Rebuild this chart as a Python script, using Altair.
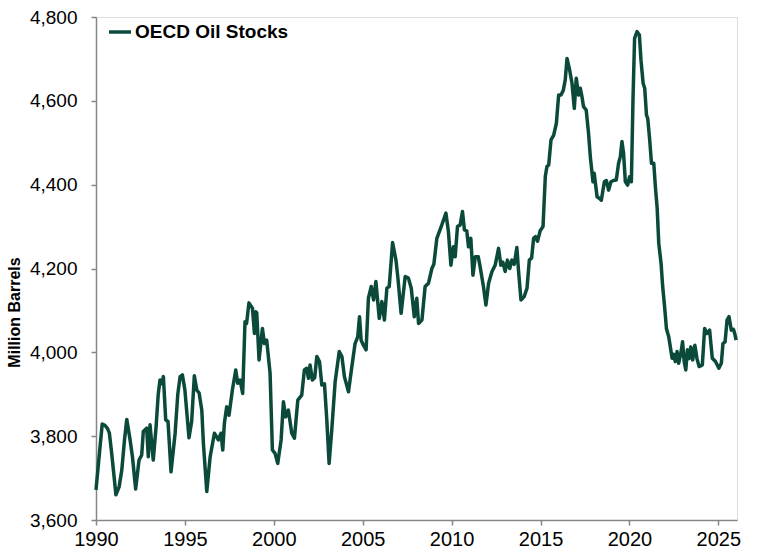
import altair as alt
import pandas as pd

years = [
    1990.00, 1990.15, 1990.35, 1990.50, 1990.65, 1990.75, 1990.88, 1991.05, 1991.12, 1991.30,
    1991.45, 1991.60, 1991.73, 1991.90, 1992.05, 1992.23, 1992.42, 1992.57, 1992.66, 1992.85,
    1992.94, 1993.04, 1993.22, 1993.38, 1993.50, 1993.60, 1993.70, 1993.79, 1993.92, 1994.05,
    1994.22, 1994.45, 1994.60, 1994.73, 1994.86, 1995.00, 1995.23, 1995.38, 1995.53, 1995.67,
    1995.80, 1995.95, 1996.04, 1996.23, 1996.42, 1996.66, 1996.88, 1997.03, 1997.13, 1997.22,
    1997.35, 1997.48, 1997.67, 1997.86, 1997.97, 1998.10, 1998.25, 1998.38, 1998.47, 1998.60,
    1998.80, 1998.91, 1998.98, 1999.04, 1999.17, 1999.36, 1999.47, 1999.60, 1999.79, 1999.92,
    2000.07, 2000.22, 2000.41, 2000.54, 2000.67, 2000.82, 2001.01, 2001.16, 2001.35, 2001.57,
    2001.72, 2001.85, 2001.95, 2002.04, 2002.17, 2002.30, 2002.42, 2002.57, 2002.70, 2002.85,
    2002.98, 2003.11, 2003.26, 2003.45, 2003.68, 2003.83, 2003.97, 2004.20, 2004.39, 2004.57,
    2004.72, 2004.82, 2004.91, 2005.04, 2005.19, 2005.32, 2005.48, 2005.61, 2005.74, 2005.93,
    2006.08, 2006.22, 2006.36, 2006.49, 2006.68, 2006.87, 2006.98, 2007.16, 2007.39, 2007.57,
    2007.73, 2007.90, 2008.04, 2008.14, 2008.33, 2008.51, 2008.70, 2008.89, 2009.00, 2009.17,
    2009.45, 2009.68, 2009.82, 2009.96, 2010.10, 2010.20, 2010.33, 2010.48, 2010.61, 2010.72,
    2010.85, 2010.95, 2011.08, 2011.20, 2011.33, 2011.50, 2011.60, 2011.79, 2011.93, 2012.08,
    2012.27, 2012.45, 2012.64, 2012.77, 2012.88, 2013.01, 2013.14, 2013.27, 2013.39, 2013.52,
    2013.67, 2013.76, 2013.90, 2014.08, 2014.24, 2014.37, 2014.50, 2014.61, 2014.72, 2014.83,
    2014.98, 2015.14, 2015.27, 2015.36, 2015.46, 2015.59, 2015.74, 2015.89, 2016.02, 2016.15,
    2016.28, 2016.39, 2016.49, 2016.64, 2016.77, 2016.90, 2017.01, 2017.14, 2017.24, 2017.33,
    2017.42, 2017.57, 2017.70, 2017.80, 2017.95, 2018.02, 2018.18, 2018.32, 2018.42, 2018.59,
    2018.70, 2018.83, 2018.96, 2019.10, 2019.26, 2019.39, 2019.49, 2019.58, 2019.67, 2019.77,
    2019.90, 2020.01, 2020.11, 2020.20, 2020.29, 2020.43, 2020.56, 2020.65, 2020.77, 2020.86,
    2020.96, 2021.03, 2021.14, 2021.24, 2021.37, 2021.46, 2021.56, 2021.65, 2021.78, 2021.87,
    2021.97, 2022.08, 2022.21, 2022.30, 2022.40, 2022.49, 2022.58, 2022.68, 2022.77, 2022.88,
    2022.99, 2023.08, 2023.17, 2023.26, 2023.36, 2023.45, 2023.56, 2023.68, 2023.80, 2023.92,
    2024.10, 2024.23, 2024.36, 2024.51, 2024.66, 2024.84, 2025.03, 2025.17, 2025.26, 2025.38,
    2025.49, 2025.60, 2025.73, 2025.85, 2025.92, 2026.00,
]

stocks = [
    3672, 3740, 3829, 3826, 3818, 3808, 3760, 3690, 3660, 3679,
    3719, 3790, 3840, 3796, 3751, 3674, 3743, 3755, 3811, 3819,
    3751, 3827, 3743, 3823, 3900, 3934, 3925, 3942, 3839, 3835,
    3715, 3807, 3900, 3942, 3946, 3910, 3796, 3835, 3944, 3910,
    3903, 3862, 3783, 3668, 3751, 3807, 3791, 3807, 3767, 3831,
    3870, 3850, 3910, 3958, 3926, 3934, 3902, 4073, 4069, 4118,
    4105, 4045, 4097, 4094, 3982, 4057, 4021, 4029, 3950, 3767,
    3759, 3735, 3791, 3882, 3846, 3862, 3807, 3795, 3886, 3898,
    3958, 3962, 3938, 3970, 3934, 3940, 3990, 3978, 3922, 3925,
    3839, 3735, 3815, 3930, 4002, 3990, 3942, 3906, 3966, 4021,
    4037, 4085, 4029, 4017, 4006, 4129, 4157, 4125, 4169, 4081,
    4121, 4077, 4153, 4157, 4262, 4220, 4177, 4093, 4181, 4177,
    4153, 4085, 4129, 4069, 4077, 4157, 4165, 4200, 4210, 4272,
    4304, 4332, 4288, 4208, 4252, 4228, 4300, 4304, 4336, 4292,
    4290, 4252, 4272, 4184, 4228, 4228, 4205, 4157, 4113, 4165,
    4193, 4208, 4248, 4208, 4215, 4193, 4220, 4200, 4220, 4210,
    4250, 4196, 4125, 4133, 4153, 4220, 4225, 4272, 4276, 4265,
    4290, 4300, 4420, 4443, 4447, 4507, 4518, 4546, 4614, 4614,
    4625, 4650, 4701, 4673, 4642, 4582, 4654, 4614, 4630, 4610,
    4586, 4578, 4523, 4467, 4407, 4427, 4371, 4367, 4363, 4407,
    4410, 4387, 4407, 4410, 4411, 4451, 4467, 4503, 4475, 4407,
    4399, 4419, 4407, 4602, 4749, 4765, 4757, 4697, 4642, 4630,
    4566, 4558, 4507, 4451, 4451, 4395, 4344, 4260, 4212, 4157,
    4113, 4057, 4037, 4013, 3986, 3995, 3978, 4002, 3974, 3995,
    4025, 3978, 3958, 4006, 3985, 4013, 3982, 4017, 3985, 3966,
    3970, 4057, 4045, 4053, 3986, 3978, 3962, 3974, 4021, 4025,
    4077, 4085, 4053, 4055, 4045, 4029,
]

series_name = "OECD Oil Stocks"
x_ticks = [1990, 1995, 2000, 2005, 2010, 2015, 2020, 2025]
y_ticks = [3600, 3800, 4000, 4200, 4400, 4600, 4800]

df = pd.DataFrame({"year": years, "stocks": stocks, "series": series_name})

AX = "#868686"
LINE = "#0B4A3B"

chart = (
    alt.Chart(df)
    .mark_line(strokeWidth=3.5, strokeJoin="round")
    .encode(
        x=alt.X(
            "year:Q",
            scale=alt.Scale(domain=[1990, 2026.05], nice=False, zero=False),
            axis=alt.Axis(
                values=x_ticks, format="d", title=None, grid=False,
                domainColor=AX, domainWidth=1.5, tickColor=AX, tickWidth=1.5, tickSize=5,
                labelFont="Liberation Sans Narrow, Liberation Sans, Arial", labelFontSize=20,
                labelColor="#000000", labelPadding=4, labelFlush=False,
            ),
        ),
        y=alt.Y(
            "stocks:Q",
            scale=alt.Scale(domain=[3600, 4800], nice=False, zero=False),
            axis=alt.Axis(
                values=y_ticks, format=",.0f", title="Million Barrels", grid=False,
                domainColor=AX, domainWidth=1.5, tickColor=AX, tickWidth=1.5, tickSize=5,
                labelFont="Liberation Sans", labelFontSize=19, labelColor="#000000",
                labelPadding=14, labelFlush=False,
                titleFont="Liberation Sans", titleFontSize=16, titleFontWeight="bold",
                titleColor="#000000", titleX=-74, titleY=295,
            ),
        ),
        color=alt.Color(
            "series:N",
            scale=alt.Scale(range=[LINE]),
            legend=alt.Legend(
                title=None, orient="none", legendX=11, legendY=2, padding=0,
                symbolType="stroke", symbolSize=484, symbolStrokeWidth=3.5,
                labelFont="Liberation Sans", labelFontSize=19, labelFontWeight="bold",
                labelColor="#000000", labelOffset=2,
            ),
        ),
    )
    .properties(
        width=641, height=503,
        autosize=alt.AutoSizeParams(type="none"),
        padding={"left": 96, "top": 17, "right": 33, "bottom": 38},
    )
    .configure_view(stroke=AX, strokeWidth=1.5)
    .configure(background="#ffffff")
)

chart.save("out.html", embed_options={"renderer": "svg", "actions": False})
